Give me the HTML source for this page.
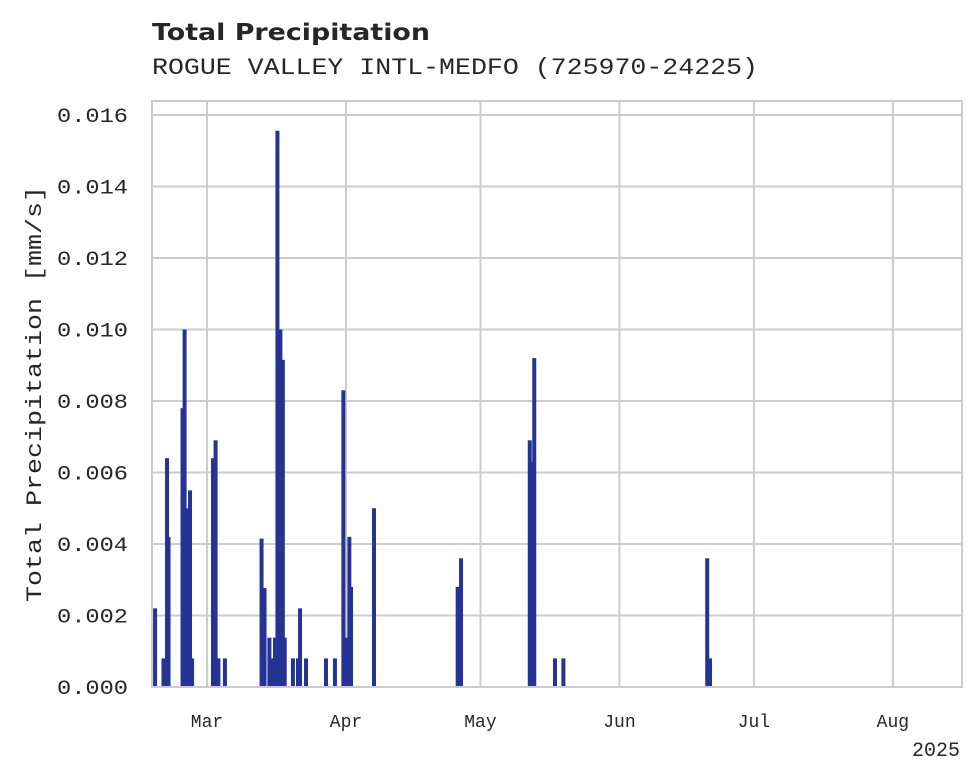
<!DOCTYPE html>
<html><head><meta charset="utf-8"><style>
html,body{margin:0;padding:0;background:#fff;}
svg{display:block;}
text{fill:#262626;}
</style></head><body>
<svg id="chart" width="980" height="783" viewBox="0 0 980 783" xmlns="http://www.w3.org/2000/svg">
<text x="152" y="40" font-family="DejaVu Sans, Liberation Sans, sans-serif" font-weight="bold" font-size="23" textLength="278" lengthAdjust="spacingAndGlyphs">Total Precipitation</text>
<text x="152" y="74" font-family="Liberation Mono, monospace" font-size="23" textLength="606" lengthAdjust="spacingAndGlyphs">ROGUE VALLEY INTL-MEDFO (725970-24225)</text>
<g id="grid"></g>
<g id="bars"></g>
<rect x="152" y="101" width="810" height="586" fill="none" stroke="#cccccc" stroke-width="2"/>
<g id="ticks"></g>
<text transform="translate(41,394) rotate(-90)" text-anchor="middle" font-family="Liberation Mono, monospace" font-size="22" textLength="416" lengthAdjust="spacingAndGlyphs">Total Precipitation [mm/s]</text>
<text x="960" y="756" text-anchor="end" font-family="Liberation Mono, monospace" font-size="20">2025</text>
</svg>
<script>
const times = ["2025-02-17T10","2025-02-19T07","2025-02-20T02","2025-02-20T10","2025-02-23T13","2025-02-24T00","2025-02-24T13","2025-02-24T21","2025-02-25T05","2025-02-25T16","2025-03-02T08","2025-03-02T22","2025-03-03T13","2025-03-05T00","2025-03-13T04","2025-03-13T20","2025-03-14T22","2025-03-15T12","2025-03-16T04","2025-03-16T17","2025-03-17T09","2025-03-17T22","2025-03-18T08","2025-03-20T04","2025-03-21T07","2025-03-21T18","2025-03-23T02","2025-03-27T13","2025-03-29T13","2025-03-31T10","2025-04-01T00","2025-04-01T18","2025-04-02T03","2025-04-07T06","2025-04-25T22","2025-04-26T16","2025-05-12T00","2025-05-12T15","2025-05-13T00","2025-05-17T15","2025-05-19T12","2025-06-20T14","2025-06-21T05"];
const values = [0.0022,0.0008,0.0064,0.0042,0.0078,0.0100,0.0050,0.0036,0.0055,0.0008,0.0064,0.0069,0.0008,0.0008,0.00415,0.00277,0.00138,0.0008,0.00138,0.01556,0.0100,0.00915,0.00138,0.0008,0.0008,0.0022,0.0008,0.0008,0.0008,0.0083,0.00138,0.0042,0.0028,0.0050,0.0028,0.0036,0.0069,0.0063,0.0092,0.0008,0.0008,0.0036,0.0008];
const yTicks = [0,0.002,0.004,0.006,0.008,0.010,0.012,0.014,0.016];
const xTickDates = ["2025-03-01","2025-04-01","2025-05-01","2025-06-01","2025-07-01","2025-08-01"];
const xTickLabels = ["Mar","Apr","May","Jun","Jul","Aug"];

const NS="http://www.w3.org/2000/svg";
const L=152,R=962,T=101,B=687;
const t0=Date.parse("2025-02-16T17:30:00Z"), t1=Date.parse("2025-08-16T10:00:00Z");
function px(s){const t=Date.parse(s.length<=10?s+"T00:00:00Z":s+":00:00Z");return L+(t-t0)/(t1-t0)*(R-L);}
function py(v){return B-v/0.016*(687-115);}
function mk(tag,attrs,parent){const e=document.createElementNS(NS,tag);for(const k in attrs)e.setAttribute(k,attrs[k]);parent.appendChild(e);return e;}
const grid=document.getElementById('grid'),bars=document.getElementById('bars'),ticks=document.getElementById('ticks');
yTicks.forEach((v,i)=>{
  const y=py(v);
  const g=mk('line',{x1:L,x2:R,y1:y,y2:y,stroke:'#cccccc','stroke-width':2},grid);
  
  
  const t=mk('text',{x:128,y:y+7,'text-anchor':'end','font-family':'Liberation Mono, monospace','font-size':20,textLength:71,lengthAdjust:'spacingAndGlyphs'},ticks);
  t.textContent=v.toFixed(3);
  
  
});
xTickDates.forEach((d,i)=>{
  const x=px(d);
  const g=mk('line',{x1:x,x2:x,y1:T,y2:B,stroke:'#cccccc','stroke-width':2},grid);
  
  
  const t=mk('text',{x:x,y:727,'text-anchor':'middle','font-family':'Liberation Mono, monospace','font-size':18},ticks);
  t.textContent=xTickLabels[i];
  
  
});
times.forEach((s,i)=>{
  const x=px(s),y=py(values[i]);
  const r=mk('rect',{x:x-2,y:y,width:4,height:B-y,fill:'#253494'},bars);
  
  
});
</script>
</body></html>
